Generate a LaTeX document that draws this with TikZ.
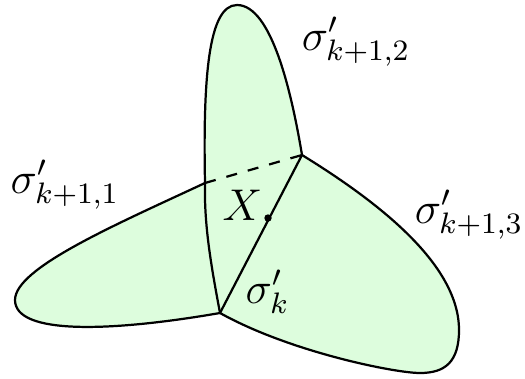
\documentclass[tikz,border=0pt]{standalone}
\begin{document}
\begin{tikzpicture}[x=0.27pt,y=-0.27pt,
  petal/.style={fill={rgb,255:red,221;green,253;blue,221}},
  edge/.style={line width=0.6pt,line join=round},
  lbl/.style={anchor=base west,inner sep=0pt,font=\large}]
\useasboundingbox (0,0) rectangle (525,378);
\coordinate (A) at (220,313);
\coordinate (B) at (302,155);
\coordinate (P) at (205,183);
\coordinate (L) at (15,300);
\coordinate (T) at (237,5);
\coordinate (R) at (459,330);
\coordinate (D) at (420,373);
% fills
\fill[petal] (P) .. controls (115,225) and (15,268) .. (L) .. controls (15,335) and (110,332) .. (A) -- (B) -- cycle;
\fill[petal] (B) .. controls (380,203) and (459,265) .. (R) .. controls (459,362) and (445,373) .. (D) .. controls (395,373) and (290,352) .. (A) -- cycle;
\fill[petal] (A) .. controls (211,265) and (204,225) .. (P) .. controls (203,80) and (208,5) .. (T) .. controls (272,5) and (292,95) .. (B) -- cycle;
% outlines
\draw[edge] (P) .. controls (115,225) and (15,268) .. (L) .. controls (15,335) and (110,332) .. (A);
\draw[edge] (B) .. controls (380,203) and (459,265) .. (R) .. controls (459,362) and (445,373) .. (D) .. controls (395,373) and (290,352) .. (A);
\draw[edge] (A) .. controls (211,265) and (204,225) .. (P) .. controls (203,80) and (208,5) .. (T) .. controls (272,5) and (292,95) .. (B);
\draw[edge] (A) -- (B);
\draw[edge,dashed] (P) -- (B);
\node[circle,fill,inner sep=0pt,minimum size=2pt] (X) at (268,218) {};
% labels
\node[lbl] (l2) at (301,50) {$\sigma'_{k+1,2}$};
\node[lbl] (l1) at (10,193) {$\sigma'_{k+1,1}$};
\node[lbl] (l3) at (414,223) {$\sigma'_{k+1,3}$};
\node[lbl] (lk) at (245,303) {$\sigma'_{k}$};
\node[lbl] (lx) at (222,220) {$X$};
\end{tikzpicture}
\end{document}
